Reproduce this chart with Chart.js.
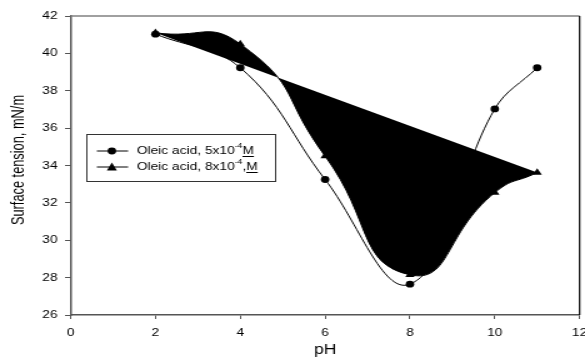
<!DOCTYPE html>
<html>
<head>
<meta charset="utf-8">
<script src="https://cdn.jsdelivr.net/npm/chart.js@4/dist/chart.umd.min.js"></script>
<style>
  body { margin: 0; background: #fff; overflow: hidden; }
  /* the original figure is stretched sideways, so draw narrow and widen */
  #wrap { width: 468px; height: 363px; transform: scaleX(1.25); transform-origin: 0 0; }
</style>
</head>
<body>
<div id="wrap"><canvas id="chart" width="468" height="363"></canvas></div>
<script>
// data
const phValues = [2, 4, 6, 8, 10, 11];
const oleic5 = [41.03, 39.23, 33.25, 27.65, 37.03, 39.23];
const oleic8 = [41.1, 40.5, 34.5, 28.15, 32.55, 33.62];
const xTicks = [0, 2, 4, 6, 8, 10, 12];
const yTicks = [26, 28, 30, 32, 34, 36, 38, 40, 42];
const legendLabels = ['Oleic acid, 5x10', 'Oleic acid, 8x10'];
const yTitle = 'Surface tension, mN/m';

const pts = (xs, ys) => xs.map((x, i) => ({ x: x, y: ys[i] }));
// closing chord for the filled shape (first to last point of the 8x10^-4 series)
const chord = [
  { x: phValues[0], y: oleic8[0] },
  { x: phValues[phValues.length - 1], y: oleic8[oleic8.length - 1] }
];

const FONT = 'Liberation Sans, Arial, sans-serif';

// frame (top grey, right black), y title and custom legend
const framePlugin = {
  id: 'frame',
  afterDraw(chart) {
    const { ctx, chartArea: a } = chart;
    ctx.save();
    ctx.lineWidth = 1.5;
    ctx.strokeStyle = '#808080';
    ctx.beginPath();
    ctx.moveTo(a.left, a.top);
    ctx.lineTo(a.right, a.top);
    ctx.stroke();
    ctx.strokeStyle = '#000';
    ctx.lineWidth = 1.2;
    ctx.beginPath();
    ctx.moveTo(a.right, a.top);
    ctx.lineTo(a.right, a.bottom);
    ctx.stroke();

    // y axis title, glyphs a little wider like the source
    ctx.save();
    ctx.translate(15.5, 160);
    ctx.rotate(-Math.PI / 2);
    ctx.scale(1, 1.12);
    ctx.fillStyle = '#000';
    ctx.font = '12.8px ' + FONT;
    ctx.textAlign = 'center';
    ctx.textBaseline = 'middle';
    ctx.fillText(yTitle, 0, 0);
    ctx.restore();

    // legend box
    const bx = 69, by = 134, bw = 151, bh = 47;
    ctx.lineWidth = 1;
    ctx.strokeStyle = '#333';
    ctx.fillStyle = '#fff';
    ctx.fillRect(bx, by, bw, bh);
    ctx.strokeRect(bx + 0.5, by + 0.5, bw, bh);

    const rows = [151, 167];
    rows.forEach((ry, i) => {
      ctx.strokeStyle = '#000';
      ctx.lineWidth = 1;
      ctx.beginPath();
      ctx.moveTo(77.5, ry);
      ctx.lineTo(102.5, ry);
      ctx.stroke();
      ctx.fillStyle = '#000';
      ctx.beginPath();
      if (i === 0) {
        ctx.arc(89.5, ry, 3.4, 0, Math.PI * 2);
      } else {
        ctx.moveTo(89.5, ry - 4.5);
        ctx.lineTo(93.5, ry + 3.5);
        ctx.lineTo(85.5, ry + 3.5);
        ctx.closePath();
      }
      ctx.fill();

      ctx.textBaseline = 'middle';
      ctx.textAlign = 'left';
      ctx.font = '11px ' + FONT;
      let tx = 109.5;
      ctx.fillText(legendLabels[i], tx, ry);
      tx += ctx.measureText(legendLabels[i]).width;
      ctx.font = '7px ' + FONT;
      ctx.fillText('-4', tx, ry - 5);
      tx += ctx.measureText('-4').width;
      ctx.font = '11px ' + FONT;
      const sep = i === 0 ? '' : ',';
      ctx.fillText(sep, tx, ry);
      tx += ctx.measureText(sep).width;
      ctx.fillText('M', tx, ry);
      const mw = ctx.measureText('M').width;
      ctx.beginPath();
      ctx.moveTo(tx, ry + 5.5);
      ctx.lineTo(tx + mw, ry + 5.5);
      ctx.stroke();
    });
    ctx.restore();
  }
};

new Chart(document.getElementById('chart'), {
  type: 'line',
  data: {
    datasets: [
      {
        label: 'Oleic acid, 8x10-4 M',
        data: pts(phValues, oleic8),
        borderColor: '#000',
        backgroundColor: '#000',
        borderWidth: 1,
        pointStyle: 'triangle',
        pointRadius: 4.3,
        pointBackgroundColor: '#000',
        pointBorderWidth: 0,
        tension: 0.55,
        fill: { target: 2, above: '#000', below: '#000' }
      },
      {
        label: 'Oleic acid, 5x10-4 M',
        data: pts(phValues, oleic5),
        borderColor: '#000',
        borderWidth: 1,
        pointStyle: 'circle',
        pointRadius: 3.4,
        pointBackgroundColor: '#000',
        pointBorderWidth: 0,
        tension: 0.4,
        fill: false
      },
      {
        label: 'chord',
        data: chord,
        borderColor: 'rgba(0,0,0,0)',
        borderWidth: 0,
        pointRadius: 0,
        tension: 0,
        fill: false
      }
    ]
  },
  plugins: [framePlugin],
  options: {
    responsive: false,
    animation: false,
    events: [],
    layout: { padding: { top: 16, right: 2.5, left: 0, bottom: 0 } },
    plugins: {
      legend: { display: false },
      tooltip: { enabled: false },
      filler: { drawTime: 'beforeDatasetDraw' }
    },
    scales: {
      x: {
        type: 'linear',
        min: 0,
        max: 12,
        afterBuildTicks: s => { s.ticks = xTicks.map(v => ({ value: v })); },
        afterFit: s => { s.height = 48; s.paddingLeft = 0; s.paddingRight = 0; },
        grid: { drawOnChartArea: false, tickLength: 4, tickColor: '#555', lineWidth: 1 },
        border: { color: '#555', width: 1.5 },
        ticks: { color: '#000', font: { family: FONT, size: 11 }, padding: 7, maxRotation: 0 },
        title: { display: true, text: 'pH', color: '#000', font: { family: FONT, size: 14 }, padding: { top: 6 } }
      },
      y: {
        type: 'linear',
        min: 26,
        max: 42,
        afterBuildTicks: s => { s.ticks = yTicks.map(v => ({ value: v })); },
        afterFit: s => { s.width = 56.5; },
        grid: { drawOnChartArea: false, tickLength: 4.5, tickColor: '#555', lineWidth: 1 },
        border: { color: '#555', width: 1.5 },
        ticks: { color: '#000', font: { family: FONT, size: 11 }, padding: 6 }
      }
    }
  }
});
</script>
</body>
</html>
